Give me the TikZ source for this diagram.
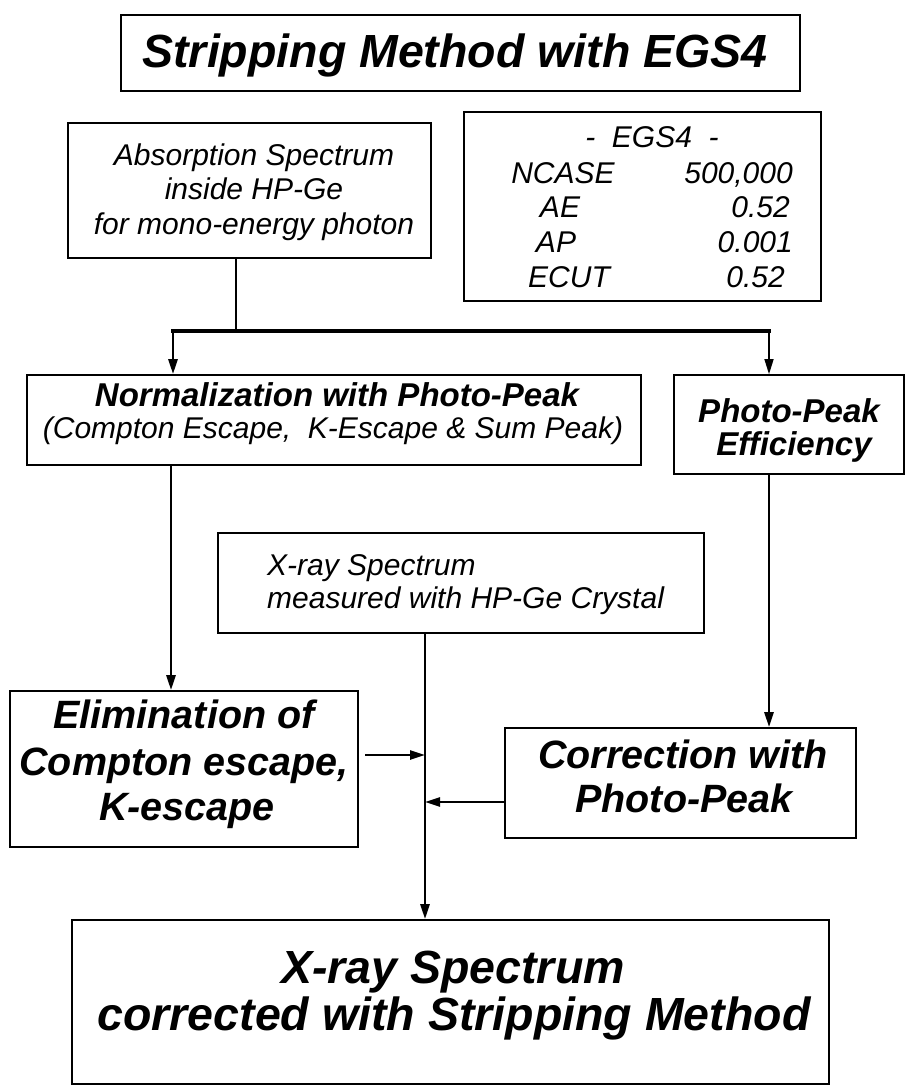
\documentclass[tikz,border=0pt]{standalone}
\usepackage{fontspec}
\setmainfont{Liberation Sans}
\usetikzlibrary{arrows.meta,fit}
\newcommand\fsz[1]{\fontsize{#1}{#1}\selectfont}
\begin{document}
\begin{tikzpicture}[x=1pt,y=-1pt,
  box/.style={draw, line width=1.7pt, inner sep=0pt},
  hb/.style={font=\fsz{#1}\bfseries\itshape, inner sep=0pt, anchor=base},
  hi/.style={font=\fsz{#1}\itshape, inner sep=0pt, anchor=base},
  wire/.style={line width=2.7pt},
  bar/.style={line width=3.4pt},
  arr/.style={line width=2.6pt, -{Triangle[length=15pt,width=9pt]}},
  arrthin/.style={line width=1.5pt, -{Triangle[length=15pt,width=9pt]}}]

% page
\fill[white] (0,0) rectangle (901,1086);

% boxes
\node[box, fit={(121,15) (800,91)}]   (title)  {};
\node[box, fit={(68,123) (431,258)}]  (absorb) {};
\node[box, fit={(464,112) (821,301)}] (egs)    {};
\node[box, fit={(27,375) (641,465)}]  (norm)   {};
\node[box, fit={(674,375) (904,474)}] (ppe)    {};
\node[box, fit={(218,533) (704,633)}] (xray)   {};
\node[box, fit={(10,691) (358,847)}]  (elim)   {};
\node[box, fit={(505,728) (856,838)}] (corr)   {};
\node[box, fit={(72,920) (829,1084)}] (final)  {};

% texts
\node[hb=46.5] (titleT) at (455,68) {Stripping Method with EGS4};

\node[hi=30] (absT1) at (254,166) {Absorption Spectrum};
\node[hi=30] (absT2) at (254,200) {inside HP-Ge};
\node[hi=30] (absT3) at (254,234) {for mono-energy photon};

\node[hi=30] (egsH) at (652,148) {-\ \ EGS4\ \ -};
\node[hi=30] (egsL1) at (563,183) {NCASE};
\node[hi=30] (egsL2) at (560,218) {AE};
\node[hi=30] (egsL3) at (556,252) {AP};
\node[hi=30] (egsL4) at (569,287) {ECUT};
\node[hi=30, anchor=base east] (egsV1) at (793,183) {500,000};
\node[hi=30, anchor=base east] (egsV2) at (790,218) {0.52};
\node[hi=30, anchor=base east] (egsV3) at (793,252) {0.001};
\node[hi=30, anchor=base east] (egsV4) at (785,287) {0.52};

\node[hb=33] (normT1) at (337,406) {Normalization with Photo-Peak};
\node[hi=30] (normT2) at (333,438) {(Compton Escape,\ \ K-Escape \& Sum Peak)};

\node[hb=33] (ppeT1) at (789,422) {Photo-Peak};
\node[hb=33] (ppeT2) at (794,455) {Efficiency};

\node[hi=30, anchor=base west] (xrayT1) at (267,575) {X-ray Spectrum};
\node[hi=30, anchor=base west] (xrayT2) at (267,608) {measured with HP-Ge Crystal};

\node[hb=39.5] (elimT1) at (184,728) {Elimination of};
\node[hb=39.5] (elimT2) at (184,775) {Compton escape,};
\node[hb=39.5] (elimT3) at (187,820) {K-escape};

\node[hb=39.5] (corrT1) at (683,768) {Correction with};
\node[hb=39.5] (corrT2) at (684,812) {Photo-Peak};

\node[hb=46.5] (finalT1) at (453,983) {X-ray Spectrum};
\node[hb=46.5] (finalT2) at (454,1030) {corrected with Stripping Method};

% junction points of the connectors
\coordinate (split) at (236,331);
\coordinate (barL)  at (173,331);
\coordinate (barR)  at (769,331);
\coordinate (normOut) at (171,465);
\coordinate (trunk) at (425,633);
\coordinate (eIn)   at (365,755);
\coordinate (cIn)   at (505,802);

% connectors
\draw[wire] (absorb.south -| split) -- (split);
\draw[bar, line cap=rect] (barL) -- (barR);
\draw[arr] (barL) -- (barL |- norm.north);
\draw[arrthin] (barR) -- (barR |- ppe.north);
\draw[arr] (normOut) -- (normOut |- elim.north);
\draw[arr] (ppe.south -| barR) -- (corr.north -| barR);
\draw[arr] (xray.south -| trunk) -- (final.north -| trunk);
\draw[arr] (eIn) -- (eIn -| trunk);
\draw[arr] (cIn) -- (cIn -| trunk);
\end{tikzpicture}
\end{document}
